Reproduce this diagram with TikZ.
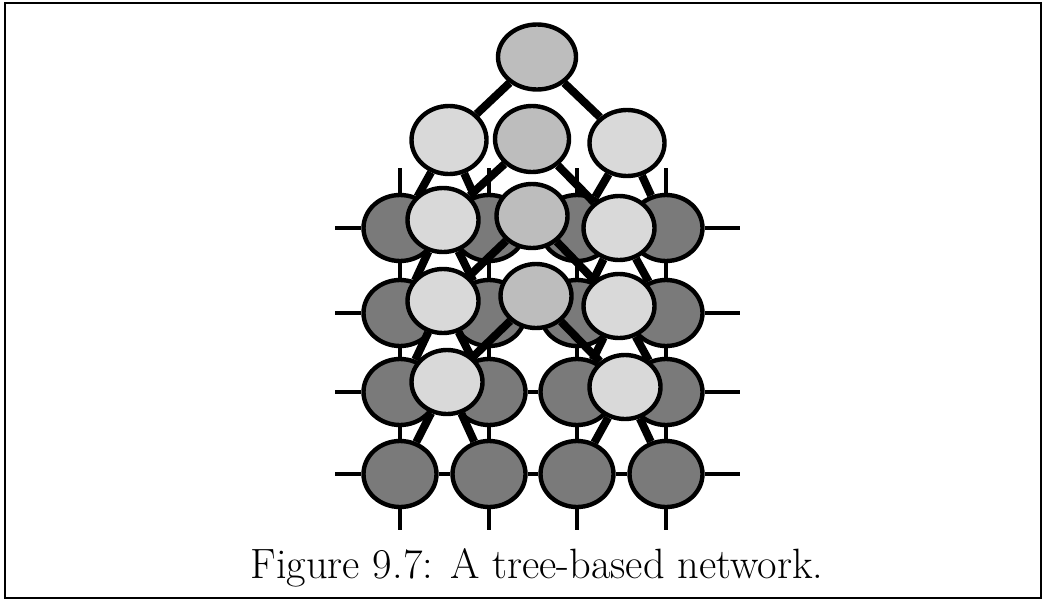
\documentclass[tikz,border=0pt]{standalone}
\usetikzlibrary{shapes.geometric}
\pgfdeclarelayer{wires}
\pgfdeclarelayer{grid}
\pgfdeclarelayer{links}
\pgfsetlayers{wires,grid,links,main}

\begin{document}
\begin{tikzpicture}[
  x=0.5pt, y=-0.5pt,
  cell/.style={ellipse, draw=black, line width=2.2pt, fill=black!52, inner sep=0pt,
               minimum width=36.5pt, minimum height=33pt},
  leaf/.style={cell, fill=black!15, minimum width=35.5pt, minimum height=32pt},
  hub/.style={leaf, fill=black!26},
  wire/.style={draw=black, line width=1.6pt},
  link/.style={draw=black, line width=4pt}
]
\useasboundingbox (0,0) rectangle (1047,605);
\draw[line width=1pt] (5,3) rectangle (1041,598);

% mesh of 4x4 cells
\begin{pgfonlayer}{grid}
\foreach \r/\y in {1/228,2/313,3/392,4/474}
  \foreach \c/\x in {1/400,2/489,3/577,4/666}
    \node[cell] (m\r\c) at (\x,\y) {};
\end{pgfonlayer}
\begin{pgfonlayer}{wires}
\foreach \r/\y in {1/228,2/313,3/392,4/474} {
  \coordinate (w\r) at (335,\y);
  \coordinate (e\r) at (740,\y);
  \draw[wire] (w\r) -- (m\r1) -- (m\r2) -- (m\r3) -- (m\r4) -- (e\r);
}
\foreach \c/\x in {1/400,2/489,3/577,4/666} {
  \coordinate (n\c) at (\x,168);
  \coordinate (s\c) at (\x,530);
  \draw[wire] (n\c) -- (m1\c) -- (m2\c) -- (m3\c) -- (m4\c) -- (s\c);
}
\end{pgfonlayer}

% row trees
\node[hub, minimum width=39pt, minimum height=32.5pt] (top1) at (537,57) {};
\node[leaf, minimum width=37.5pt, minimum height=34pt] (lft1) at (449,140) {};
\node[hub, minimum width=37pt, minimum height=33pt] (top2) at (532,139) {};
\node[leaf, minimum width=37.5pt, minimum height=33pt] (rgt1) at (627,143) {};
\node[leaf] (lft2) at (443,220) {};
\node[hub] (top3) at (532,216) {};
\node[leaf] (rgt2) at (619,228) {};
\node[leaf] (lft3) at (443,301) {};
\node[hub] (top4) at (536,296) {};
\node[leaf] (rgt3) at (619,306) {};
\node[leaf] (lft4) at (447,382) {};
\node[leaf] (rgt4) at (625,387) {};

\begin{pgfonlayer}{links}
\foreach \k in {1,...,4} {
  \draw[link] (top\k) -- (lft\k);
  \draw[link] (top\k) -- (rgt\k);
  \draw[link] (lft\k) -- (m\k1);
  \draw[link] (lft\k) -- (m\k2);
  \draw[link] (rgt\k) -- (m\k3);
  \draw[link] (rgt\k) -- (m\k4);
}
\end{pgfonlayer}

\node[font=\fontsize{21.2}{25}\selectfont, anchor=base] (cap) at (537,578) {Figure 9.7: A tree-based network.};
\end{tikzpicture}
\end{document}
